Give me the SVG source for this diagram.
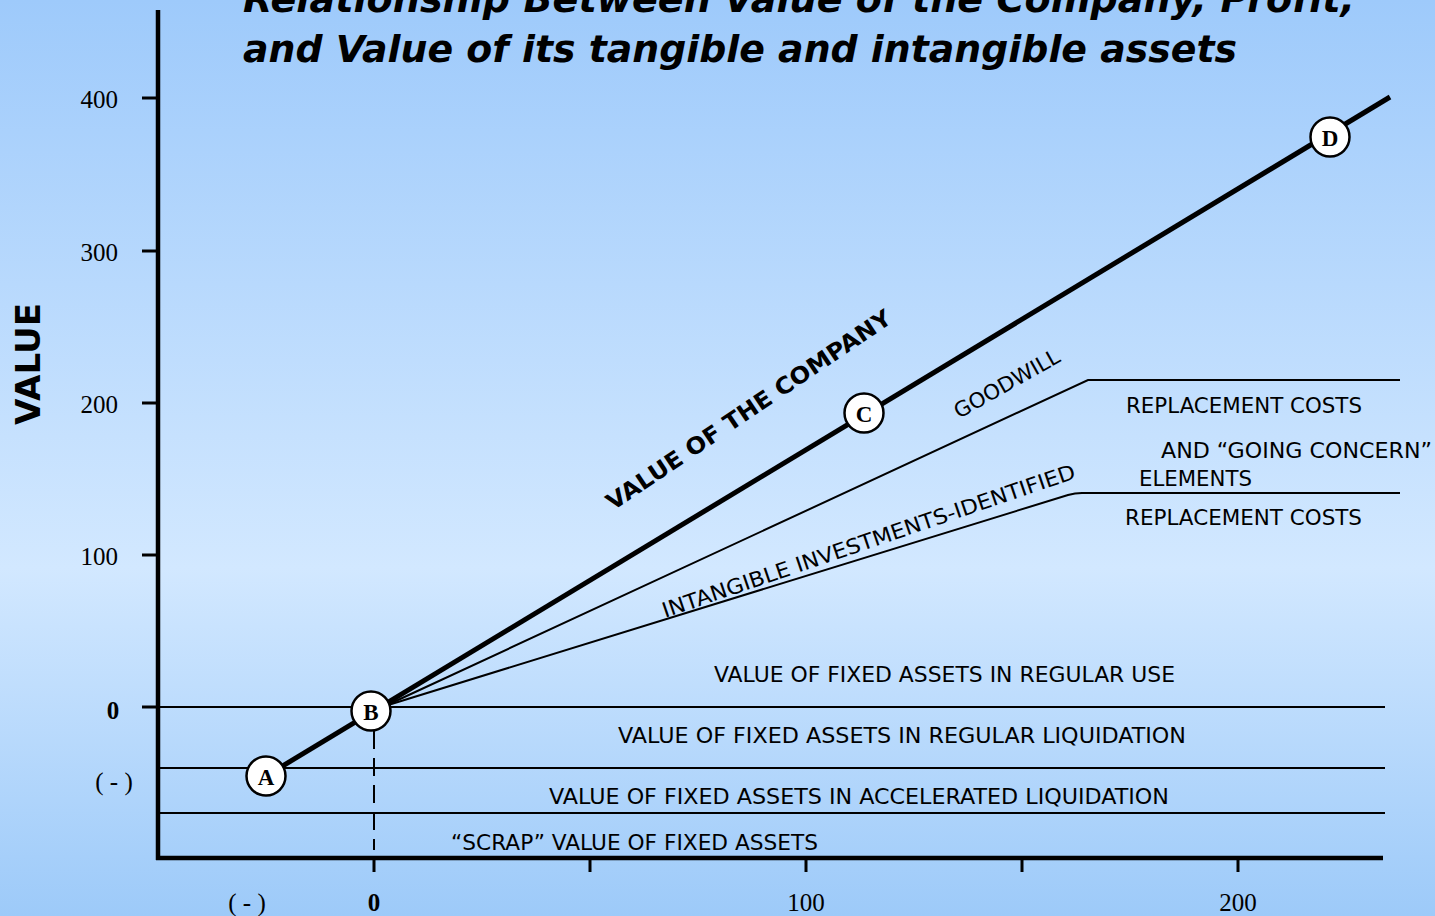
<svg xmlns="http://www.w3.org/2000/svg" width="1435" height="916" viewBox="0 0 1435 916">
<defs>
<linearGradient id="bg" x1="0" y1="0" x2="0" y2="1">
<stop offset="0" stop-color="#9ecafb"/>
<stop offset="0.62" stop-color="#d2e8ff"/>
<stop offset="1" stop-color="#9dcaf9"/>
</linearGradient>
</defs>
<style>
.ax{stroke:#000;stroke-width:4.5;fill:none}
.tk{stroke:#000;stroke-width:3;fill:none}
.ln{stroke:#000;stroke-width:2;fill:none}
.thick{stroke:#000;stroke-width:5;fill:none}
.num{font-family:"Liberation Serif",serif;font-size:25px;fill:#000}
.lbl{font-family:"DejaVu Sans",sans-serif;font-size:21px;fill:#000}
.node circle{fill:#fff;stroke:#000;stroke-width:2.5}
.node text{font-family:"Liberation Serif",serif;font-weight:bold;font-size:23px;text-anchor:middle;fill:#000}
</style>
<rect width="1435" height="916" fill="url(#bg)"/>
<g id="title" font-family="DejaVu Sans,sans-serif" font-weight="bold" font-style="italic" font-size="38">
<text x="243" y="12" textLength="1112" lengthAdjust="spacingAndGlyphs">Relationship Between Value of the Company, Profit,</text>
<text x="243" y="62" textLength="994" lengthAdjust="spacingAndGlyphs">and Value of its tangible and intangible assets</text>
</g>
<g id="axes">
<line class="ax" x1="158" y1="10" x2="158" y2="860"/>
<line class="ax" x1="156" y1="858" x2="1383" y2="858" stroke-width="5"/>
<line class="tk" x1="142" y1="98" x2="158" y2="98"/>
<line class="tk" x1="142" y1="251" x2="158" y2="251"/>
<line class="tk" x1="142" y1="403" x2="158" y2="403"/>
<line class="tk" x1="142" y1="555" x2="158" y2="555"/>
<line class="tk" x1="142" y1="707" x2="158" y2="707"/>
<line class="tk" x1="374" y1="858" x2="374" y2="872"/>
<line class="tk" x1="590" y1="858" x2="590" y2="872"/>
<line class="tk" x1="806" y1="858" x2="806" y2="872"/>
<line class="tk" x1="1022" y1="858" x2="1022" y2="872"/>
<line class="tk" x1="1238" y1="858" x2="1238" y2="872"/>
<text class="num" x="118" y="108" text-anchor="end">400</text>
<text class="num" x="118" y="261" text-anchor="end">300</text>
<text class="num" x="118" y="413" text-anchor="end">200</text>
<text class="num" x="118" y="565" text-anchor="end">100</text>
<text class="num" x="113" y="719" text-anchor="middle" font-weight="bold">0</text>
<text class="num" x="114" y="790" text-anchor="middle">( - )</text>
<text class="num" x="247" y="911" text-anchor="middle">( - )</text>
<text class="num" x="374" y="911" text-anchor="middle" font-weight="bold">0</text>
<text class="num" x="806" y="911" text-anchor="middle">100</text>
<text class="num" x="1238" y="911" text-anchor="middle">200</text>
<text x="28" y="364" transform="rotate(-90 28 364)" text-anchor="middle" dominant-baseline="central" font-family="DejaVu Sans,sans-serif" font-weight="bold" font-size="34" textLength="122" lengthAdjust="spacingAndGlyphs">VALUE</text>
</g>
<g id="connectors">
<line class="ln" x1="158" y1="707" x2="1385" y2="707"/>
<line class="ln" x1="160" y1="768" x2="1385" y2="768"/>
<line class="ln" x1="160" y1="813" x2="1385" y2="813"/>
<line x1="374" y1="731" x2="374" y2="850" stroke="#000" stroke-width="2" stroke-dasharray="18,9"/>
<line class="thick" x1="266" y1="776" x2="1390" y2="97"/>
<path class="ln" d="M385 706 L1088 380 L1400 380"/>
<path class="ln" d="M385 706 L1068 495 Q1075 493 1082 493 L1400 493"/>
</g>
<g id="labels">
<text x="613" y="511" transform="rotate(-34 613 511)" font-family="DejaVu Sans,sans-serif" font-weight="bold" font-size="23" textLength="338" lengthAdjust="spacingAndGlyphs">VALUE OF THE COMPANY</text>
<text class="lbl" x="959" y="419" transform="rotate(-29.5 959 419)" textLength="118" lengthAdjust="spacingAndGlyphs">GOODWILL</text>
<text class="lbl" x="665" y="618" transform="rotate(-18.8 665 618)" textLength="435" lengthAdjust="spacingAndGlyphs">INTANGIBLE INVESTMENTS-IDENTIFIED</text>
<text class="lbl" x="1126" y="413" textLength="236" lengthAdjust="spacingAndGlyphs">REPLACEMENT COSTS</text>
<text class="lbl" x="1161" y="458" textLength="271" lengthAdjust="spacingAndGlyphs">AND  “GOING CONCERN”</text>
<text class="lbl" x="1139" y="486" textLength="113" lengthAdjust="spacingAndGlyphs">ELEMENTS</text>
<text class="lbl" x="1125" y="525" textLength="237" lengthAdjust="spacingAndGlyphs">REPLACEMENT COSTS</text>
<text class="lbl" x="714" y="682" textLength="461" lengthAdjust="spacingAndGlyphs">VALUE OF FIXED ASSETS IN REGULAR USE</text>
<text class="lbl" x="618" y="743" textLength="568" lengthAdjust="spacingAndGlyphs">VALUE OF FIXED ASSETS IN REGULAR LIQUIDATION</text>
<text class="lbl" x="549" y="804" textLength="620" lengthAdjust="spacingAndGlyphs">VALUE OF FIXED ASSETS IN ACCELERATED LIQUIDATION</text>
<text class="lbl" x="451" y="850" textLength="367" lengthAdjust="spacingAndGlyphs">“SCRAP” VALUE OF FIXED ASSETS</text>
</g>
<g id="node-A" class="node"><circle cx="266" cy="776" r="19.5"/><text x="266" y="785">A</text></g>
<g id="node-B" class="node"><circle cx="371" cy="711" r="19.5"/><text x="371" y="720">B</text></g>
<g id="node-C" class="node"><circle cx="864" cy="413" r="19.5"/><text x="864" y="422">C</text></g>
<g id="node-D" class="node"><circle cx="1330" cy="137" r="19.5"/><text x="1330" y="146">D</text></g>
</svg>
